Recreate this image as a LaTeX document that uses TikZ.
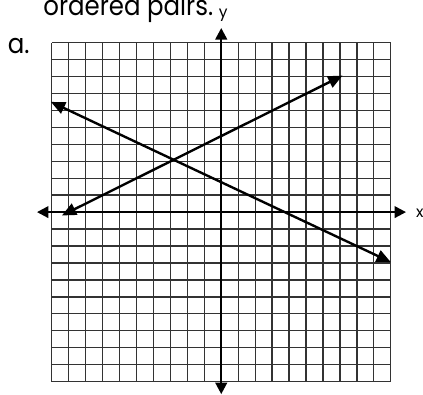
\documentclass[tikz,border=0pt]{standalone}
\usepackage{fontspec}
\setmainfont{Poppins}
\usetikzlibrary{arrows.meta}
\definecolor{gridgrey}{HTML}{333333}

\begin{document}
\begin{tikzpicture}[
  x=5mm, y=5mm,
  every node/.style={inner sep=0pt},
  gridline/.style={draw=gridgrey, line width=1.1pt},
  axis/.style={line width=2pt, {Triangle[length=3.4mm, width=3.4mm]}-{Triangle[length=3.4mm, width=3.4mm]}},
  graph/.style={line width=2pt, {Triangle[length=4.2mm, width=3.6mm]}-{Triangle[length=4.2mm, width=3.6mm]}},
  biglabel/.style={font=\fontsize{20.5}{24}\selectfont, anchor=base west, yscale=1.12, transform shape},
  axlabel/.style={font=\fontsize{13}{15}\selectfont}
]
\useasboundingbox (-13.05,-10.74) rectangle (11.9,12.51);

% Heading, cut off at the top
\node[biglabel] (head) at (-10.5,11.62) {ordered pairs.};
\node[biglabel] (part) at (-12.6,9.38) {a.};

% Grid: 20 x 20 cells, origin in the middle
\foreach \i in {-10,...,10} {
  \draw[gridline] (\i,-10) -- (\i,10);
  \draw[gridline] (-10,\i) -- (10,\i);
}

% Axes
\coordinate (xleft)  at (-10.87,0);
\coordinate (xright) at (10.9,0);
\coordinate (ydown)  at (0,-10.74);
\coordinate (yup)    at (0,10.86);
\draw[axis] (xleft) -- (xright);
\draw[axis] (ydown) -- (yup);
\node[axlabel] (xlab) at (11.72,-0.05) {x};
\node[axlabel, anchor=base] (ylab) at (0.11,11.5) {y};

% The two lines, crossing at (-3,3)
\coordinate (pa) at (-9.4,-0.2);
\coordinate (pb) at (7.15,8.05);
\coordinate (qa) at (-10.05,6.5);
\coordinate (qb) at (10,-2.95);
\draw[graph] (pa) -- (pb);
\draw[graph] (qa) -- (qb);

\end{tikzpicture}
\end{document}
